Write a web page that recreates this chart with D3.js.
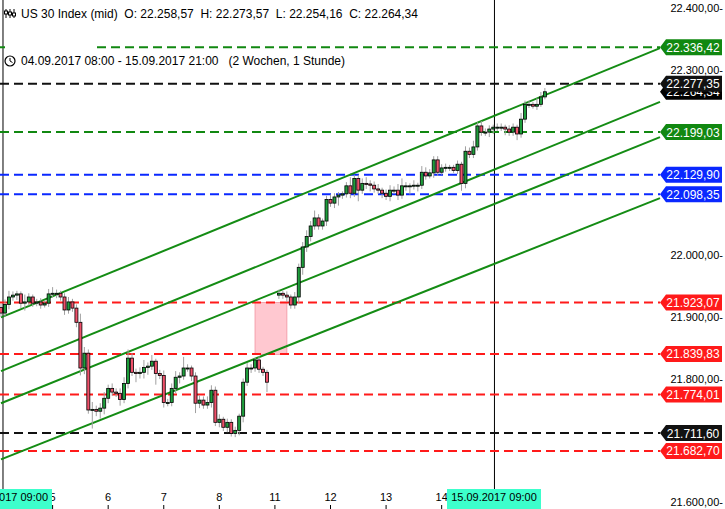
<!DOCTYPE html>
<html><head><meta charset="utf-8">
<script src="https://cdn.jsdelivr.net/npm/d3@7"></script>
<style>body{margin:0;background:#fff}svg{display:block;font-family:"Liberation Sans",Arial,sans-serif}</style>
</head><body><svg id="c" width="725" height="509"></svg>
<script>
const closes=[21906,21920,21932,21935,21937,21922,21924,21932,21922,21924,21919,21922,21937,21938,21938,21932,21911,21924,21914,21891,21817,21841,21749,21750,21747,21752,21768,21784,21778,21776,21766,21792,21833,21810,21808,21810,21818,21820,21828,21808,21805,21761,21761,21784,21802,21804,21817,21817,21804,21760,21765,21757,21761,21781,21729,21734,21721,21729,21711,21716,21739,21794,21817,21817,21830,21815,21810,21794,null,null,21938,21935,21932,21919,21932,21980,22013,22030,22047,22060,22047,22055,22090,22084,22094,22097,22099,22112,22100,22124,22105,22116,22115,22113,22107,22105,22100,22095,22105,22105,22097,22112,22112,22112,22113,22113,22134,22128,22133,22154,22134,22141,22142,22142,22137,22147,22116,22168,22163,22175,22209,22199,22199,22204,22207,22207,22207,22204,22199,22207,22196,22220,22244,22244,22241,22244,22256,22264.34];
const wickUp=[6,8,10,6,5,4,12,6,4,5,6,4,8,10,6,4,6,8,5,6,14,10,6,12,6,8,10,6,8,6,8,10,14,8,6,8,12,6,10,4,6,8,6,8,10,6,18,6,4,6,8,6,10,8,6,8,4,6,5,6,4,6,8,6,4,6,4,4,0,0,6,4,6,4,8,6,8,10,8,12,6,4,6,8,6,5,4,6,14,6,6,8,10,6,6,8,4,6,8,6,10,12,6,4,8,4,10,8,6,6,6,6,6,4,4,6,4,8,6,10,6,8,6,6,4,6,6,4,6,6,4,10,6,6,4,10,8,6];
const wickDn=[6,6,8,6,8,8,12,6,6,5,6,4,6,6,8,6,8,6,6,8,12,10,6,30,8,12,10,8,6,6,10,6,8,6,14,8,10,12,6,18,6,8,6,6,8,10,6,6,8,16,8,6,6,8,6,8,6,8,5,6,8,10,6,8,6,6,6,16,0,0,6,6,8,6,6,10,12,8,8,6,6,6,8,6,8,14,6,6,8,6,18,6,8,10,6,6,8,6,8,6,8,6,8,14,6,10,6,6,4,8,6,4,6,6,4,6,12,8,6,6,6,6,6,8,8,6,6,10,6,6,10,6,6,6,4,6,4,4];
const firstOpen=21915;
const dayTickIdx=[13,27,41,55,69,83,97,111];
const dayTickLabels=["5","6","7","8","11","12","13","14"];
const yTicks=[22400,22300,22000,21900,21800,21600];
const hLevels=[22336.42,22277.35,22199.03,22129.90,22098.35,21923.07,21839.83,21774.01,21711.60,21682.70];
const hColors=["#118811","#111111","#118811","#0a28ff","#0a28ff","#ff1a1a","#ff1a1a","#ff1a1a","#111111","#ff1a1a"];
const channelStart=[21899,21812,21760,21669];
const channelEnd=[22335,22248,22191,22092];
const channelIdx=[0,166];
const rectIdx=[64,72], rectPrice=[21923,21839];
const currentPrice=22264.34;
const vLineIdx=[0.5,124.3];

const svg=d3.select("#c");
const x=d3.scaleLinear().domain([0,166]).range([1,660]);
const y=d3.scaleLinear().domain([21600,22400]).range([502,8]);
const loc=d3.formatLocale({decimal:",",thousands:".",grouping:[3],currency:["",""]});
const fmt=loc.format(",.2f");

svg.append("rect").attr("x",x(rectIdx[0])).attr("y",y(rectPrice[0])).attr("width",x(rectIdx[1])-x(rectIdx[0])).attr("height",y(rectPrice[1])-y(rectPrice[0])).attr("fill","#ffc8d0").attr("stroke","#f4a0ac");
svg.selectAll(".vl").data(vLineIdx).join("line").attr("x1",d=>x(d)).attr("x2",d=>x(d)).attr("y1",0).attr("y2",509).attr("stroke","#000").attr("stroke-width",1);
hLevels.forEach((v,i)=>{
  svg.append("line").attr("x1",i===0?97:0).attr("x2",660).attr("y1",y(v)).attr("y2",y(v)).attr("stroke",hColors[i]).attr("stroke-width",2).attr("stroke-dasharray","9,5");
});
svg.append("line").attr("x1",0).attr("x2",5).attr("y1",y(hLevels[0])).attr("y2",y(hLevels[0])).attr("stroke",hColors[0]).attr("stroke-width",2);
channelStart.forEach((s,i)=>{
  svg.append("line").attr("x1",x(channelIdx[0])).attr("x2",x(channelIdx[1])).attr("y1",y(s)).attr("y2",y(channelEnd[i])).attr("stroke","#148c14").attr("stroke-width",2);
});
const candles=[];
let prev=firstOpen;
closes.forEach((c,i)=>{
  if(c===null){prev=null;return;}
  const o=prev===null?c-3:prev;
  candles.push({i,o,c,h:Math.max(o,c)+wickUp[i],l:Math.min(o,c)-wickDn[i]});
  prev=c;
});
const g=svg.append("g");
g.selectAll(".w").data(candles).join("line").attr("x1",d=>x(d.i)).attr("x2",d=>x(d.i)).attr("y1",d=>y(d.h)).attr("y2",d=>y(d.l)).attr("stroke","#a0a0a0");
g.selectAll(".b").data(candles).join("rect").attr("x",d=>x(d.i)-1.5).attr("width",3)
 .attr("y",d=>y(Math.max(d.o,d.c))).attr("height",d=>Math.max(1,Math.abs(y(d.o)-y(d.c))))
 .attr("fill",d=>d.c>=d.o?"#1e9e3c":"#f0506a").attr("stroke","#000").attr("stroke-width",0.8);

svg.selectAll(".yt").data(yTicks).join("text").attr("x",723).attr("y",d=>y(d)+4).attr("text-anchor","end").attr("font-size",11).text(d=>fmt(d)+"-");

function tag(v,col){
  const yy=y(v);
  const gg=svg.append("g");
  gg.append("path").attr("d",`M660,${yy} L666,${yy-8} L722,${yy-8} L722,${yy+8} L666,${yy+8} Z`).attr("fill",col);
  gg.append("text").attr("x",693).attr("y",yy+4.5).attr("text-anchor","middle").attr("font-size",12).attr("fill","#fff").text(fmt(v));
}
tag(currentPrice,"#000");
hLevels.forEach((v,i)=>tag(v,hColors[i]));

svg.selectAll(".xt").data(dayTickIdx).join("text").attr("x",d=>x(d)).attr("y",501).attr("text-anchor","middle").attr("font-size",11).text((d,i)=>dayTickLabels[i]);
svg.selectAll(".xk").data(dayTickIdx).join("line").attr("x1",d=>x(d)).attr("x2",d=>x(d)).attr("y1",505).attr("y2",509).attr("stroke","#000");
svg.append("rect").attr("x",0).attr("y",489).attr("width",52).attr("height",20).attr("fill","#3dffcc");
svg.append("text").attr("x",48).attr("y",501).attr("text-anchor","end").attr("font-size",11).text("04.09.2017 09:00");
svg.append("rect").attr("x",447).attr("y",489).attr("width",94).attr("height",20).attr("fill","#3dffcc");
svg.append("text").attr("x",494).attr("y",501).attr("text-anchor","middle").attr("font-size",11).text("15.09.2017 09:00");

const ic=svg.append("g").attr("stroke","#000").attr("fill","none");
[6,10,14].forEach((px,k)=>{ic.append("line").attr("x1",px).attr("x2",px).attr("y1",9).attr("y2",18);ic.append("rect").attr("x",px-1.5).attr("y",11+k).attr("width",3).attr("height",3).attr("fill","#fff");});
svg.append("text").attr("x",21).attr("y",18).attr("font-size",12).attr("xml:space","preserve").text("US 30 Index (mid)  O: 22.258,57  H: 22.273,57  L: 22.254,16  C: 22.264,34");
svg.append("circle").attr("cx",10).attr("cy",61).attr("r",5).attr("fill","none").attr("stroke","#000").attr("stroke-width",1.2);
svg.append("path").attr("d","M10,58 L10,61 L12.5,62.5").attr("fill","none").attr("stroke","#000");
svg.append("text").attr("x",21).attr("y",65).attr("font-size",12).attr("xml:space","preserve").text("04.09.2017 08:00 - 15.09.2017 21:00   (2 Wochen, 1 Stunde)");
</script></body></html>
